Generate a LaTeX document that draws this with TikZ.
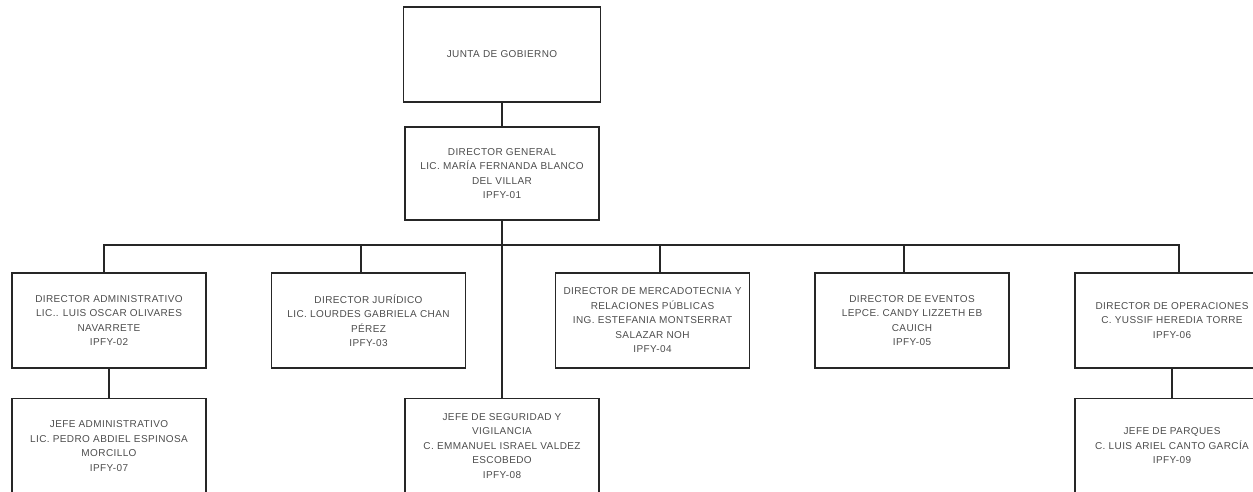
\documentclass[tikz,border=0pt]{standalone}
\usepackage{fontspec}
\setmainfont{Liberation Sans}[LetterSpace=4]
\usepackage{tikz}
\usetikzlibrary{positioning,calc}

\begin{document}
\begin{tikzpicture}[x=1pt,y=-1pt]
        \tikzstyle{every node}=[font=\fontsize{10}{14.5}\selectfont,text=black!70]
        \tikzstyle{puesto}=[draw=black!85,line width=1.2pt,align=center,minimum width=194pt,minimum height=95pt,inner sep=0pt]
        \useasboundingbox (0,0) rectangle (1253,491);
        \clip (0,0) rectangle (1253,491);

        %%% Top
        \node[puesto,minimum width=197pt] (junta) at (502,54.5) {JUNTA DE GOBIERNO};
        \node[puesto,minimum height=93pt] (dgen) at (502,173.5) {DIRECTOR GENERAL\\LIC. MARÍA FERNANDA BLANCO\\DEL VILLAR\\IPFY-01};
        \coordinate (bus) at (502,245);

        %%% Directors
        \node[puesto] (dadm) at (109,320.5) {DIRECTOR ADMINISTRATIVO\\LIC.. LUIS OSCAR OLIVARES\\NAVARRETE\\IPFY-02};
        \node[puesto] (djur) at (368.5,320.5) {DIRECTOR JURÍDICO\\LIC. LOURDES GABRIELA CHAN\\PÉREZ\\IPFY-03};
        \node[puesto] (dmer) at (652.5,320.5) {DIRECTOR DE MERCADOTECNIA Y\\RELACIONES PÚBLICAS\\ING. ESTEFANIA MONTSERRAT\\SALAZAR NOH\\IPFY-04};
        \node[puesto] (deve) at (912,320.5) {DIRECTOR DE EVENTOS\\LEPCE. CANDY LIZZETH EB\\CAUICH\\IPFY-05};
        \node[puesto] (dope) at (1172,320.5) {DIRECTOR DE OPERACIONES\\C. YUSSIF HEREDIA TORRE\\IPFY-06};

        %%% Jefes
        \node[puesto] (jadm) at (109,446) {JEFE ADMINISTRATIVO\\LIC. PEDRO ABDIEL ESPINOSA\\MORCILLO\\IPFY-07};
        \node[puesto] (jseg) at (502,446) {JEFE DE SEGURIDAD Y\\VIGILANCIA\\C. EMMANUEL ISRAEL VALDEZ\\ESCOBEDO\\IPFY-08};
        \node[puesto] (jpar) at (1172,446) {JEFE DE PARQUES\\C. LUIS ARIEL CANTO GARCÍA\\IPFY-09};

        \draw[line width=1.2pt,black!85] (junta) -- (dgen);
        \draw[line width=1.2pt,black!85] (dgen) -- (jseg);
        \draw[line width=1.2pt,black!85] ([xshift=-5pt]dadm.north) |- (bus) -| ([xshift=7pt]dope.north);
        \draw[line width=1.2pt,black!85] ([xshift=-7.5pt]djur.north) -- ([xshift=-7.5pt]djur.north |- bus);
        \draw[line width=1.2pt,black!85] ([xshift=7.5pt]dmer.north) -- ([xshift=7.5pt]dmer.north |- bus);
        \draw[line width=1.2pt,black!85] ([xshift=-8pt]deve.north) -- ([xshift=-8pt]deve.north |- bus);
        \draw[line width=1.2pt,black!85] (dadm) -- (jadm);
        \draw[line width=1.2pt,black!85] (dope) -- (jpar);
\end{tikzpicture}
\end{document}
